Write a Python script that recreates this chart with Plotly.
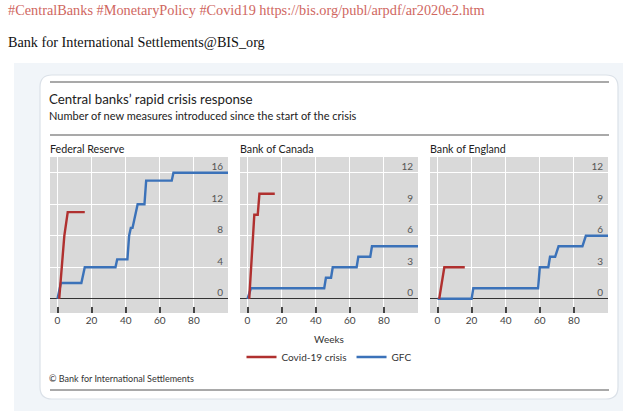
import plotly.graph_objects as go

W, H = 629, 411

# ---------------- data ----------------
fed_covid_weeks = [1, 4, 6, 16]
fed_covid_vals = [0, 8, 11, 11]
fed_gfc_weeks = [0, 2, 14, 16, 34, 35, 41, 42, 43, 44, 45, 47, 51, 52, 67, 68, 100]
fed_gfc_vals = [0, 2, 2, 4, 4, 5, 5, 8, 9, 9, 10, 12, 12, 15, 15, 16, 16]

boc_covid_weeks = [1, 4, 6, 7, 16]
boc_covid_vals = [0, 8, 8, 10, 10]
boc_gfc_weeks = [0, 2, 45, 46, 49, 50, 64, 65, 72, 73, 100]
boc_gfc_vals = [0, 1, 1, 2, 2, 3, 3, 4, 4, 5, 5]

boe_covid_weeks = [1, 4, 16]
boe_covid_vals = [0, 3, 3]
boe_gfc_weeks = [0, 20, 21, 59, 60, 65, 66, 69, 71, 85, 87, 100]
boe_gfc_vals = [0, 0, 1, 1, 3, 3, 4, 4, 5, 5, 6, 6]

panel_titles = ["Federal Reserve", "Bank of Canada", "Bank of England"]
x_ticks = [0, 20, 40, 60, 80]
y_ticks_fed = [0, 4, 8, 12, 16]
y_ticks_other = [0, 3, 6, 9, 12]

RED = "#b0302f"
BLUE = "#3b72b9"
FONT = "Lato"


def px(x):
    return x / W


def py(y):
    return 1 - y / H


fig = go.Figure()

panels = [
    (fed_covid_weeks, fed_covid_vals, fed_gfc_weeks, fed_gfc_vals),
    (boc_covid_weeks, boc_covid_vals, boc_gfc_weeks, boc_gfc_vals),
    (boe_covid_weeks, boe_covid_vals, boe_gfc_weeks, boe_gfc_vals),
]
x_doms = [(50, 228), (240, 418), (430, 608)]
y_dom = (py(313), py(157))

for i, (cw, cv, gw, gv) in enumerate(panels):
    sfx = "" if i == 0 else str(i + 1)
    fig.add_trace(go.Scatter(x=gw, y=gv, mode="lines", name="GFC",
                             line=dict(color=BLUE, width=2.4),
                             xaxis="x" + sfx, yaxis="y" + sfx,
                             showlegend=(i == 0), legendrank=2))
    fig.add_trace(go.Scatter(x=cw, y=cv, mode="lines", name="Covid-19 crisis",
                             line=dict(color=RED, width=2.4),
                             xaxis="x" + sfx, yaxis="y" + sfx,
                             showlegend=(i == 0), legendrank=1))

layout = dict(
    width=W, height=H,
    margin=dict(l=0, r=0, t=0, b=0),
    paper_bgcolor="white",
    plot_bgcolor="rgba(0,0,0,0)",
    font=dict(family=FONT, color="#333"),
    showlegend=True,
    legend=dict(orientation="h", x=px(329), xanchor="center", y=py(357),
                yanchor="middle", bgcolor="rgba(0,0,0,0)",
                font=dict(family=FONT, size=10, color="#333"),
                itemwidth=30, traceorder="normal"),
)

for i in range(3):
    sfx = "" if i == 0 else str(i + 1)
    yt = y_ticks_fed if i == 0 else y_ticks_other
    yr = [-1.8, 18] if i == 0 else [-1.35, 13.5]
    xa = dict(domain=[px(x_doms[i][0]), px(x_doms[i][1])], range=[-4.4, 100],
              tickvals=x_ticks, ticks="inside", ticklen=6, tickwidth=1.5,
              tickcolor="#444", showgrid=True, gridcolor="white", gridwidth=1.3,
              zeroline=False, showline=False, fixedrange=True,
              tickfont=dict(family=FONT, size=10, color="#444"),
              anchor="y" + sfx)
    if i == 1:
        xa["title"] = dict(text="Weeks", standoff=10,
                           font=dict(family=FONT, size=10, color="#333"))
    ya = dict(domain=list(y_dom), range=yr, tickvals=yt, side="right",
              ticklabelposition="inside", ticklabelshift=-6, ticklabelstandoff=2,
              showgrid=True, gridcolor="white", gridwidth=1.3,
              zeroline=True, zerolinecolor="#333", zerolinewidth=1.3,
              showline=False, ticks="", fixedrange=True,
              tickfont=dict(family=FONT, size=10, color="#555"),
              anchor="x" + sfx)
    layout["xaxis" + sfx] = xa
    layout["yaxis" + sfx] = ya

fig.update_layout(**layout)


# ---------------- decorations ----------------
def P(x, y):
    return f"{px(x):.5f},{py(y):.5f}"


x0, y0, x1, y1, r = 40, 75, 618, 399, 12
card = (f"M {P(x0 + r, y0)} L {P(x1 - r, y0)} Q {P(x1, y0)} {P(x1, y0 + r)} "
        f"L {P(x1, y1 - r)} Q {P(x1, y1)} {P(x1 - r, y1)} "
        f"L {P(x0 + r, y1)} Q {P(x0, y1)} {P(x0, y1 - r)} "
        f"L {P(x0, y0 + r)} Q {P(x0, y0)} {P(x0 + r, y0)} Z")

shapes = [
    dict(type="rect", xref="paper", yref="paper", x0=px(14), x1=px(623),
         y0=py(411), y1=py(63), fillcolor="#f1f5f9", line=dict(width=0),
         layer="below"),
    dict(type="path", xref="paper", yref="paper", path=card,
         fillcolor="white", line=dict(color="#dbe1e8", width=1.2),
         layer="below"),
]
for yy in (82, 135, 390):
    shapes.append(dict(type="line", xref="paper", yref="paper",
                       x0=px(50), x1=px(609), y0=py(yy), y1=py(yy),
                       line=dict(color="#8c8c8c", width=1.5), layer="below"))
# grey plot-area backgrounds, one per panel
for i in range(3):
    sfx = "" if i == 0 else str(i + 1)
    shapes.append(dict(type="rect", xref="x" + sfx + " domain",
                       yref="y" + sfx + " domain", x0=0, x1=1, y0=0, y1=1,
                       fillcolor="#d9d9d9", line=dict(width=0), layer="below"))
fig.update_layout(shapes=shapes)

ann = [
    dict(text="#CentralBanks #MonetaryPolicy #Covid19 https://bis.org/publ/arpdf/ar2020e2.htm",
         x=px(6), y=py(10), font=dict(family="Liberation Serif", size=14.3, color="#d0675f")),
    dict(text="Bank for International Settlements@BIS_org",
         x=px(6), y=py(42), font=dict(family="Liberation Serif", size=14.2, color="#111")),
    dict(text="Central banks’ rapid crisis response",
         x=px(47), y=py(99), font=dict(family=FONT, size=13.3, color="#222")),
    dict(text="Number of new measures introduced since the start of the crisis",
         x=px(47), y=py(115), font=dict(family=FONT, size=11, color="#222")),
    dict(text="© Bank for International Settlements",
         x=px(47), y=py(378), font=dict(family=FONT, size=9, color="#333")),
]
for i, t in enumerate(panel_titles):
    ann.append(dict(text=t, x=px(x_doms[i][0] - 2), y=py(148),
                    font=dict(family=FONT, size=10.7, color="#222")))
for a in ann:
    a.update(xref="paper", yref="paper", xanchor="left", yanchor="middle",
             showarrow=False)
fig.update_layout(annotations=ann)

# remove the page's default 8px body margin so the figure fills the window
fig.write_html("out.html",
               config={"displayModeBar": False},
               post_script="document.body.style.margin='0';document.body.style.overflow='hidden';")
